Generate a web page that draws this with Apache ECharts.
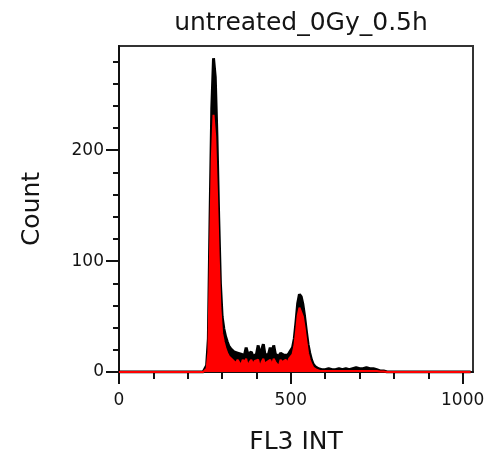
<!DOCTYPE html>
<html>
<head>
<meta charset="utf-8">
<script src="https://cdn.jsdelivr.net/npm/echarts@6/dist/echarts.min.js"></script>
<style>
  html, body { margin: 0; padding: 0; background: #fff; }
  #chart { width: 503px; height: 455px; }
</style>
</head>
<body>
<div id="chart"></div>
<script>
// FL3 INT channel (bin centres)
const channels = [0, 245, 250, 255, 260, 265, 270, 275, 280, 285, 290, 295, 300, 305, 310, 315, 320, 325, 330, 335,
  340, 345, 350, 355, 360, 365, 370, 375, 380, 385, 390, 395, 400, 405, 410, 415, 420, 425, 430, 435,
  440, 445, 450, 455, 460, 465, 470, 475, 480, 485, 490, 495, 500, 505, 510, 515, 520, 525, 530, 535,
  540, 545, 550, 555, 560, 565, 570, 575, 580, 585, 590, 595, 600, 610, 620, 630, 640, 650, 660, 670,
  680, 690, 700, 710, 720, 730, 740, 750, 760, 770, 780, 1023]
// raw histogram (black)
const countRaw = [0, 0, 1, 6, 30, 140, 238, 283, 266, 212, 140, 80, 50, 39, 32, 27, 23, 21, 20, 18,
  19, 17, 18, 16, 17, 15, 22, 16, 15, 18, 14, 15, 16, 24, 15, 14, 25, 15, 14, 16,
  22, 15, 24, 16, 15, 14, 17, 16, 15, 16, 15, 17, 18, 22, 30, 45, 62, 70, 68, 61,
  50, 37, 25, 17, 11, 7, 5, 4, 3, 3, 2, 3, 2, 3, 2, 2, 3, 2, 3, 2,
  3, 4, 3, 3, 4, 3, 3, 2, 1, 1, 0, 0]
// filled histogram (red)
const countFill = [0, 0, 0, 3, 18, 110, 192, 232, 212, 162, 105, 58, 35, 27, 21, 17, 14, 13, 11, 12,
  8, 11, 10, 6, 11, 9, 12, 5, 9, 11, 7, 10, 9, 11, 4, 9, 12, 7, 9, 10,
  11, 6, 12, 9, 10, 5, 11, 9, 10, 11, 8, 12, 13, 16, 23, 36, 51, 58, 57, 50,
  40, 28, 17, 11, 7, 4, 3, 2, 1.5, 1, 1, 1, 1, 1, 1, 1, 1, 1, 1, 1,
  1, 1, 1, 1, 1, 1, 1, 1, 0.5, 0.5, 0, 0]

const xMajor = [0, 500, 1000]
const xMinor = [100, 200, 300, 400, 600, 700, 800, 900]
const yMajor = [0, 100, 200]
const yMinor = [20, 40, 60, 80, 120, 140, 160, 180, 220, 240, 260, 280]

const textColor = '#141414'
const fontFamily = 'DejaVu Sans'
const xMax = 1030
const yMax = 294

const chart = echarts.init(document.getElementById('chart'))

const rawData = channels.map((c, i) => [c, countRaw[i]])
const fillData = channels.map((c, i) => [c, countFill[i]])

chart.setOption({
  animation: false,
  backgroundColor: '#fff',
  title: {
    text: 'untreated_0Gy_0.5h',
    left: 296,
    textAlign: 'center',
    top: 6,
    textStyle: { color: textColor, fontFamily: fontFamily, fontSize: 25, fontWeight: 'normal' }
  },
  grid: {
    left: 119,
    right: 30,
    top: 46,
    bottom: 83,
    show: true,
    borderColor: '#333',
    borderWidth: 2,
    outerBoundsMode: 'none'
  },
  xAxis: [
    {
      type: 'value',
      min: 0,
      max: xMax,
      name: 'FL3 INT',
      nameLocation: 'middle',
      nameGap: 58,
      nameTextStyle: { color: textColor, fontFamily: fontFamily, fontSize: 25 },
      axisLine: { show: true, lineStyle: { color: '#111', width: 2 } },
      axisTick: { show: true, customValues: xMajor, length: 12, lineStyle: { color: '#111', width: 2 } },
      axisLabel: {
        customValues: xMajor, margin: 20, color: textColor, fontFamily: fontFamily, fontSize: 17,
        formatter: v => String(v)
      },
      splitLine: { show: false }
    },
    {
      type: 'value',
      min: 0,
      max: xMax,
      position: 'bottom',
      axisLine: { show: false },
      axisTick: { show: true, customValues: xMinor, length: 7, lineStyle: { color: '#111', width: 2 } },
      axisLabel: { show: false },
      splitLine: { show: false }
    }
  ],
  yAxis: [
    {
      type: 'value',
      min: 0,
      max: yMax,
      name: 'Count',
      nameLocation: 'middle',
      nameRotate: 90,
      nameGap: 74,
      nameTextStyle: { color: textColor, fontFamily: fontFamily, fontSize: 25 },
      axisLine: { show: true, lineStyle: { color: '#111', width: 2 } },
      axisTick: { show: true, customValues: yMajor, length: 13, lineStyle: { color: '#111', width: 2 } },
      axisLabel: {
        customValues: yMajor, margin: 15, color: textColor, fontFamily: fontFamily, fontSize: 17,
        formatter: v => String(v)
      },
      splitLine: { show: false }
    },
    {
      type: 'value',
      min: 0,
      max: yMax,
      position: 'left',
      axisLine: { show: false },
      axisTick: { show: true, customValues: yMinor, length: 6, lineStyle: { color: '#111', width: 2 } },
      axisLabel: { show: false },
      splitLine: { show: false }
    }
  ],
  series: [
    {
      type: 'line',
      data: rawData,
      symbol: 'none',
      lineStyle: { color: '#000', width: 3 },
      areaStyle: { color: '#000', opacity: 1 },
      z: 2
    },
    {
      type: 'line',
      data: fillData,
      symbol: 'none',
      clip: false,
      lineStyle: { color: '#ff0000', width: 2 },
      areaStyle: { color: '#ff0000', opacity: 1 },
      z: 3
    }
  ]
})
</script>
</body>
</html>
